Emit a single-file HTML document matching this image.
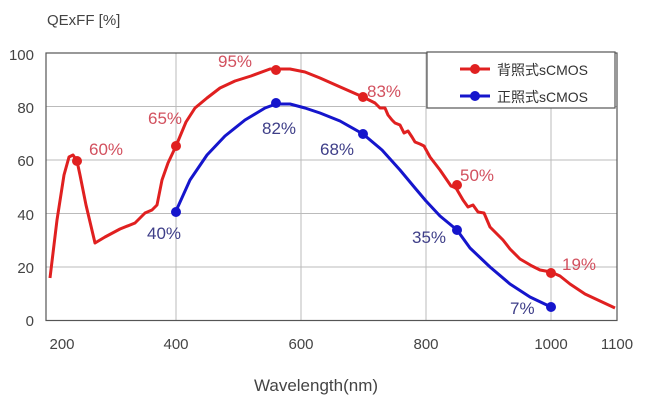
<!DOCTYPE html><html><head><meta charset="utf-8"><style>body{margin:0;background:#fff}svg{display:block}</style></head><body>
<svg width="645" height="403" xmlns="http://www.w3.org/2000/svg" font-family="'Liberation Sans','Noto Sans CJK SC',sans-serif">
<rect width="645" height="403" fill="#fff"/>
<text x="47" y="25" font-size="15" fill="#444">QExFF [%]</text>
<g stroke="#bbb" stroke-width="1">
<line x1="46" y1="106.5" x2="617" y2="106.5"/><line x1="46" y1="160" x2="617" y2="160"/><line x1="46" y1="213.5" x2="617" y2="213.5"/><line x1="46" y1="267" x2="617" y2="267"/>
<line x1="176" y1="53" x2="176" y2="320.5"/><line x1="301" y1="53" x2="301" y2="320.5"/><line x1="426" y1="53" x2="426" y2="320.5"/><line x1="551" y1="53" x2="551" y2="320.5"/>
</g>
<rect x="46" y="53" width="571" height="267.5" fill="none" stroke="#555" stroke-width="1.2"/>
<g font-size="15" fill="#444" text-anchor="end">
<text x="34" y="60">100</text><text x="34" y="113">80</text><text x="34" y="166">60</text><text x="34" y="220">40</text><text x="34" y="273">20</text><text x="34" y="326">0</text></g>
<g font-size="15" fill="#444" text-anchor="middle">
<text x="62" y="349">200</text><text x="176" y="349">400</text><text x="301" y="349">600</text><text x="426" y="349">800</text><text x="551" y="349">1000</text><text x="617" y="349">1100</text></g>
<text x="316" y="391" font-size="17" fill="#444" text-anchor="middle">Wavelength(nm)</text>
<polyline fill="none" stroke="#e02020" stroke-width="3" stroke-linejoin="round" points="50,278 57,220 64,175 69,157 73,155 77,161 80,175 86,205 95,243 105,237 120,229 135,223 145,213 152,210 157,205 162,180 168,163 176,146 186,122 195,108 207,98 220,88 235,81 251,76 270,69 290,69 305,72 320,78 338,86 363,97 375,103 380,108 385,108 388,115 392,120 395,123 400,125 404,133 408,131 412,137 415,142 420,144 424,146 430,157 440,170 451,186 456,188 463,200 468,207 473,205 478,212 484,213 490,227 497,234 503,240 510,249 520,259 532,266 540,270 551,272 560,276 570,284 585,294 600,301 615,308"/>
<polyline fill="none" stroke="#1515cc" stroke-width="3" stroke-linejoin="round" points="176,211 190,180 207,155 225,136 245,120 265,108 276,104 290,104 305,108 320,113 340,121 363,134 382,150 400,170 415,188 426,201 440,216 457,230 470,248 490,267 510,284 530,297 551,307"/>
<g fill="#e02020"><circle cx="77" cy="161" r="5"/><circle cx="176" cy="146" r="5"/><circle cx="276" cy="70" r="5"/><circle cx="363" cy="97" r="5"/><circle cx="457" cy="185" r="5"/><circle cx="551" cy="273" r="5"/></g>
<g fill="#1515cc"><circle cx="176" cy="212" r="5"/><circle cx="276" cy="103" r="5"/><circle cx="363" cy="134" r="5"/><circle cx="457" cy="230" r="5"/><circle cx="551" cy="307" r="5"/></g>
<g font-size="17" fill="#d2505e"><text x="89" y="155">60%</text><text x="148" y="124">65%</text><text x="218" y="67">95%</text><text x="367" y="97">83%</text><text x="460" y="181">50%</text><text x="562" y="270">19%</text></g>
<g font-size="17" fill="#3e3e88"><text x="147" y="239">40%</text><text x="262" y="134">82%</text><text x="320" y="155">68%</text><text x="412" y="243">35%</text><text x="510" y="314">7%</text></g>
<rect x="427" y="52" width="188" height="56" fill="#fff" stroke="#555" stroke-width="1.2"/>
<line x1="460" y1="69" x2="490" y2="69" stroke="#e02020" stroke-width="3"/><circle cx="475" cy="69" r="5" fill="#e02020"/>
<line x1="460" y1="96" x2="490" y2="96" stroke="#1515cc" stroke-width="3"/><circle cx="475" cy="96" r="5" fill="#1515cc"/>
<text x="497" y="75" font-size="14" fill="#333">背照式sCMOS</text>
<text x="497" y="102" font-size="14" fill="#333">正照式sCMOS</text>
</svg></body></html>
